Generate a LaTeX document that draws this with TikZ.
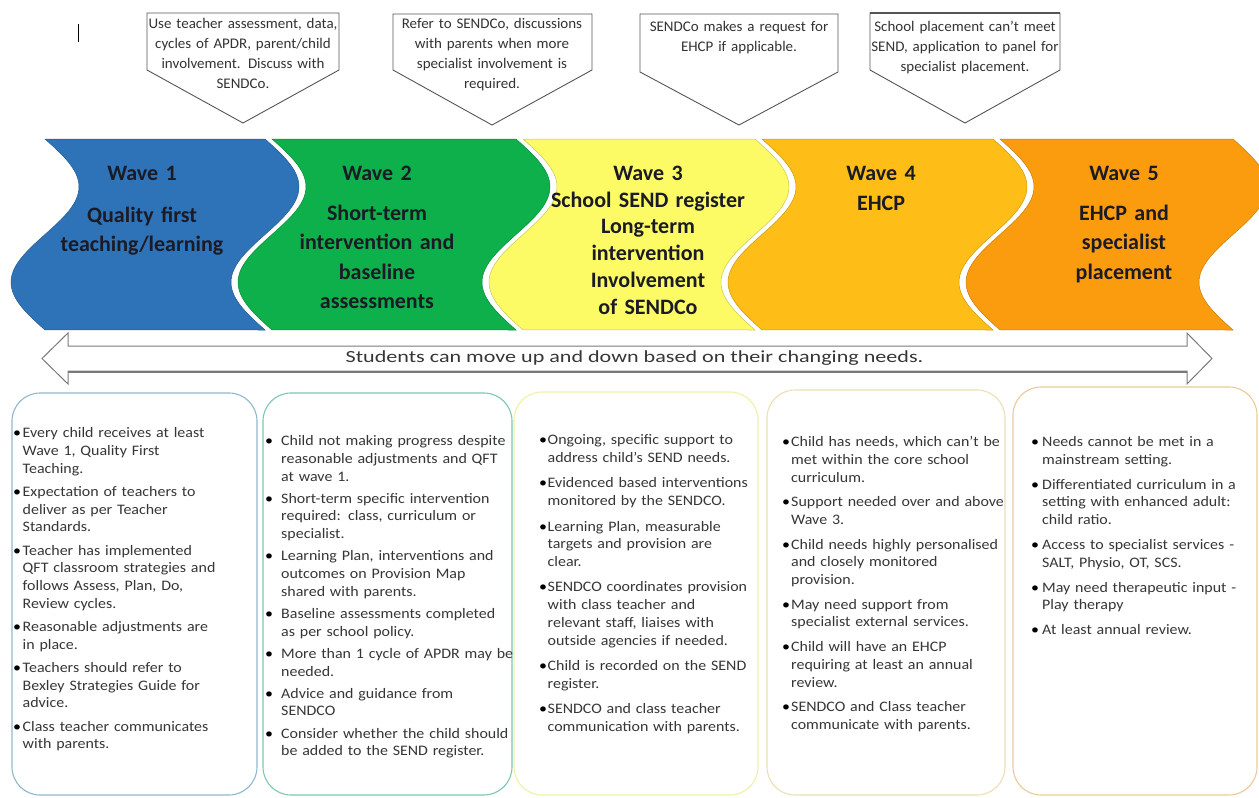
\documentclass[tikz,border=0pt]{standalone}
\usepackage{fontspec}
\setmainfont{Carlito}
\newfontfamily\boxfont[FakeStretch=1.1]{Carlito}
\newfontfamily\callfont[FakeStretch=1.02]{Carlito}
\newfontfamily\arrfont[FakeStretch=1.3]{Carlito}
\definecolor{wblue}{HTML}{2E73B8}
\definecolor{wgreen}{HTML}{0DB04B}
\definecolor{wyellow}{HTML}{FCFB66}
\definecolor{wgold}{HTML}{FFBE17}
\definecolor{worange}{HTML}{FB9C0E}
\definecolor{titlec}{HTML}{1B1B26}
\definecolor{bodyc}{HTML}{363636}
\definecolor{calltextc}{HTML}{333333}
\definecolor{calloutgray}{HTML}{555555}
\definecolor{arrowgray}{HTML}{7A7A7A}
\definecolor{bA}{HTML}{8FB8CC}
\definecolor{bB}{HTML}{7CC7B4}
\definecolor{bC}{HTML}{F0F0A8}
\definecolor{bD}{HTML}{ECE0B4}
\definecolor{bE}{HTML}{EACB98}
\newlength\bhang
\newlength\bgap
\newcommand{\bdot}{\makebox[\bhang][l]{\hspace*{-3.2pt}{\color{black}\textbullet}}}
\newcommand{\fitem}{\noindent\strut\bdot\hangindent=\bhang\hangafter=1\relax}
\newcommand{\bitem}{\par\vspace{\bgap}\noindent\bdot\hangindent=\bhang\hangafter=1\relax}
\newcommand{\waveband}[3]{%
  \path[fill=#3, draw=#3!80!black, line width=0.5pt]
    plot[domain=0:1, samples=60, variable=\t] ({#1+34*sin(360*\t)},{139+191*\t})
    -- plot[domain=0:1, samples=60, variable=\t] ({#2+34*sin(360*(1-\t))},{139+191*(1-\t)})
    -- cycle;}
\begin{document}
\begin{tikzpicture}[x=1pt,y=-1pt,
  callout/.style={draw=calloutgray, fill=white, line width=0.9pt, line join=miter},
  calltext/.style={anchor=north, inner sep=0pt, text width=215pt, align=center,
    font=\callfont\fontsize{14.7pt}{20pt}\selectfont, text=calltextc},
  wavetitle/.style={anchor=north, inner sep=0pt, text width=240pt, align=center, text=titlec},
  infobox/.style={line width=1.1pt, rounded corners=28pt, fill=white},
  boxtext/.style={anchor=north west, inner sep=0pt, text width=250pt, align=left,
    font=\boxfont\fontsize{14.5pt}{17.7pt}\selectfont, text=bodyc},
  bigarrow/.style={draw=arrowgray, fill=white, line width=1pt, line join=miter}
]
\useasboundingbox (0,0) rectangle (1259,798);
\fill[white] (0,0) rectangle (1259,798);
\clip (0,0) rectangle (1259,798);

% cursor mark
\draw[black, line width=0.9pt] (78,24) -- (78,42);

% callouts
\draw[callout] (147,13) -- (339,13) -- (339,70) -- (243,123) -- (147,70) -- cycle;
\draw[callout] (393,14) -- (592,14) -- (592,70) -- (492,125) -- (393,70) -- cycle;
\draw[callout] (640,14) -- (838,14) -- (838,72) -- (739,125) -- (640,72) -- cycle;
\draw[callout] (870,13) -- (1060,13) -- (1060,70) -- (965,123) -- (870,70) -- cycle;
\draw[calloutgray, line width=1.6pt] (870,13) -- (1060,13);

\node[calltext] (c1) at (243,14.5) {\strut Use teacher assessment, data,\\cycles of APDR, parent/child\\involvement. Discuss with\\SENDCo.};
\node[calltext] (c2) at (492,14.5) {\strut Refer to SENDCo, discussions\\with parents when more\\specialist involvement is\\required.};
\node[calltext] (c3) at (739,17.5) {\strut SENDCo makes a request for\\EHCP if applicable.};
\node[calltext] (c4) at (965,17.5) {\strut School placement can’t meet\\SEND, application to panel for\\specialist placement.};

% wave bands
\waveband{45}{265}{wblue}
\waveband{272}{516}{wgreen}
\waveband{523}{755}{wyellow}
\waveband{762}{993}{wgold}
\waveband{1000}{1233}{worange}

\node[wavetitle, font=\bfseries\fontsize{22pt}{29.5pt}\selectfont] (w1) at (142,159.35)
  {\strut Wave 1\\[12.5pt]Quality first\\teaching/learning};
\node[wavetitle, font=\bfseries\fontsize{22pt}{29.5pt}\selectfont] (w2) at (377,159.35)
  {\strut Wave 2\\[10.5pt]Short-term\\intervention and\\baseline\\assessments};
\node[wavetitle, font=\bfseries\fontsize{22pt}{26.8pt}\selectfont] (w3) at (648,161.24)
  {\strut Wave 3\\School SEND register\\Long-term\\intervention\\Involvement\\of SENDCo};
\node[wavetitle, font=\bfseries\fontsize{22pt}{30pt}\selectfont] (w4) at (881,159)
  {\strut Wave 4\\EHCP};
\node[wavetitle, font=\bfseries\fontsize{22pt}{29.5pt}\selectfont] (w5) at (1124,159.35)
  {\strut Wave 5\\[10.5pt]EHCP and\\specialist\\placement};

% double arrow
\draw[bigarrow] (42,358.5) -- (68,333) -- (68,346) -- (1187,346) -- (1187,333) -- (1212,358.5)
  -- (1187,384) -- (1187,371) -- (68,371) -- (68,384) -- cycle;
\draw[arrowgray, line width=2.4pt] (68,372.2) -- (1187,372.2);
\node[inner sep=0pt, font=\arrfont\fontsize{17pt}{20pt}\selectfont, text=bodyc] (arr) at (634.5,358)
  {Students can move up and down based on their changing needs.};

% info boxes
\draw[infobox, draw=bA] (12,393) rectangle (257,795);
\draw[infobox, draw=bB] (263,393) rectangle (512,795);
\draw[infobox, draw=bC] (514,392) rectangle (758,795);
\draw[infobox, draw=bD] (767,390) rectangle (1005,795);
\draw[infobox, draw=bE] (1013,387) rectangle (1257,795);

\node[boxtext] (t1) at (16,425.1) {\setlength\bhang{6.5pt}\setlength\bgap{5.6pt}%
\fitem Every child receives at least\newline Wave 1, Quality First\newline Teaching.
\bitem Expectation of teachers to\newline deliver as per Teacher\newline Standards.
\bitem Teacher has implemented\newline QFT classroom strategies and\newline follows Assess, Plan, Do,\newline Review cycles.
\bitem Reasonable adjustments are\newline in place.
\bitem Teachers should refer to\newline Bexley Strategies Guide for\newline advice.
\bitem Class teacher communicates\newline with parents.\par};

\node[boxtext] (t2) at (268,433.1) {\setlength\bhang{13pt}\setlength\bgap{4.5pt}%
\fitem Child not making progress despite\newline reasonable adjustments and QFT\newline at wave 1.
\bitem Short-term specific intervention\newline required: class, curriculum or\newline specialist.
\bitem Learning Plan, interventions and\newline outcomes on Provision Map\newline shared with parents.
\bitem Baseline assessments completed\newline as per school policy.
\bitem More than 1 cycle of APDR may be\newline needed.
\bitem Advice and guidance from\newline SENDCO
\bitem Consider whether the child should\newline be added to the SEND register.\par};

\node[boxtext] (t3) at (542,432.1) {\setlength\bhang{5.5pt}\setlength\bgap{7.8pt}%
\fitem Ongoing, specific support to\newline address child’s SEND needs.
\bitem Evidenced based interventions\newline monitored by the SENDCO.
\bitem Learning Plan, measurable\newline targets and provision are\newline clear.
\bitem SENDCO coordinates provision\newline with class teacher and\newline relevant staff, liaises with\newline outside agencies if needed.
\bitem Child is recorded on the SEND\newline register.
\bitem SENDCO and class teacher\newline communication with parents.\par};

\node[boxtext] (t4) at (785,434.1) {\setlength\bhang{6pt}\setlength\bgap{7pt}%
\fitem Child has needs, which can’t be\newline met within the core school\newline curriculum.
\bitem Support needed over and above\newline Wave 3.
\bitem Child needs highly personalised\newline and closely monitored\newline provision.
\bitem May need support from\newline specialist external services.
\bitem Child will have an EHCP\newline requiring at least an annual\newline review.
\bitem SENDCO and Class teacher\newline communicate with parents.\par};

\node[boxtext] (t5) at (1034,434.1) {\setlength\bhang{8pt}\setlength\bgap{7.2pt}%
\fitem Needs cannot be met in a\newline mainstream setting.
\bitem Differentiated curriculum in a\newline setting with enhanced adult:\newline child ratio.
\bitem Access to specialist services -\newline SALT, Physio, OT, SCS.
\bitem May need therapeutic input -\newline Play therapy
\bitem At least annual review.\par};
\end{tikzpicture}
\end{document}
